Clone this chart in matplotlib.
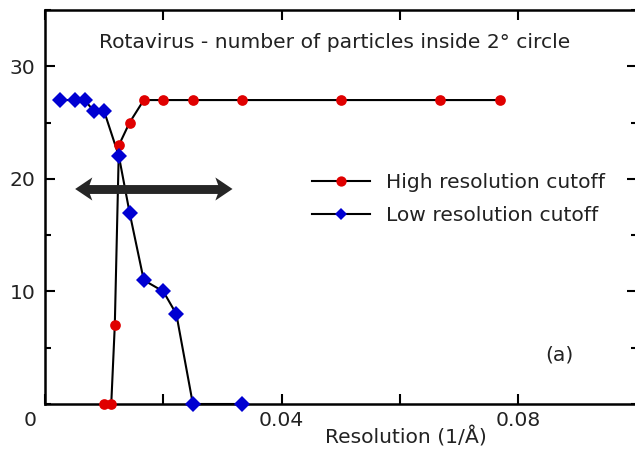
import matplotlib
matplotlib.use("Agg")
import matplotlib.pyplot as plt
from matplotlib.lines import Line2D
from matplotlib.ticker import MultipleLocator, FixedLocator, FixedFormatter

# Resolution (1/Å) and particle counts for each cutoff series
high_res_x = [0.0100, 0.0112, 0.0118, 0.0125, 0.0143, 0.0167, 0.0200, 0.0250, 0.0333, 0.0500, 0.0667, 0.0769]
high_res_y = [0, 0, 7, 23, 25, 27, 27, 27, 27, 27, 27, 27]

low_res_x = [0.0025, 0.0050, 0.0067, 0.0083, 0.0100, 0.0125, 0.0143, 0.0167, 0.0200, 0.0222, 0.0250, 0.0333]
low_res_y = [27, 27, 27, 26, 26, 22, 17, 11, 10, 8, 0, 0]

x_ticks = [0.0, 0.02, 0.04, 0.06, 0.08, 0.10]
x_tick_labels = ["", "", "0.04", "", "0.08", ""]
y_ticks = [10, 20, 30]
y_tick_labels = ["10", "20", "30"]

# Double-headed range arrow (resolution span at a given count)
arrow_x_range = (0.0051, 0.0317)
arrow_y = 19.1

title_text = "Rotavirus - number of particles inside 2° circle"
series_labels = ["High resolution cutoff", "Low resolution cutoff"]

plt.rcParams["font.family"] = ["DejaVu Sans"]
FS = 14.6
RED = "#e00000"
BLUE = "#0000d2"
TEXT = "#222222"
ARROW = "#262626"

fig = plt.figure(figsize=(6.35, 4.5), dpi=100)
ax = fig.add_axes([45 / 635, 46 / 450, 591.5 / 635, 394 / 450])
ax.set_xlim(0, 0.10)
ax.set_ylim(0, 35)

# Connecting lines first, then markers on top of both lines
ax.plot(high_res_x, high_res_y, color="black", lw=1.5, clip_on=False, zorder=2)
ax.plot(low_res_x, low_res_y, color="black", lw=1.5, clip_on=False, zorder=2)
ax.plot(high_res_x, high_res_y, ls="none", marker="o", ms=7.7,
        mfc=RED, mec=RED, mew=0, clip_on=False, zorder=5)
ax.plot(low_res_x, low_res_y, ls="none", marker="D", ms=8.4,
        mfc=BLUE, mec=BLUE, mew=0, clip_on=False, zorder=5)

# Range arrow: a thick shaft plus a barbed head at each end
a, b = arrow_x_range
head_len = 0.0029
ax.plot([a + 0.6 * head_len, b - 0.6 * head_len], [arrow_y, arrow_y],
        color=ARROW, lw=6.4, solid_capstyle="butt", zorder=3)
for tip, sign in ((b, 1), (a, -1)):
    ax.arrow(tip - sign * head_len, arrow_y, sign * head_len, 0, width=0.0,
             head_width=2.05, head_length=head_len, overhang=0.25,
             length_includes_head=True, color=ARROW, lw=0, zorder=3)

# Axes styling
for sp in ax.spines.values():
    sp.set_linewidth(1.8)
ax.xaxis.set_major_locator(FixedLocator(x_ticks))
ax.xaxis.set_major_formatter(FixedFormatter(x_tick_labels))
ax.yaxis.set_major_locator(FixedLocator(y_ticks))
ax.yaxis.set_major_formatter(FixedFormatter(y_tick_labels))
ax.yaxis.set_minor_locator(MultipleLocator(5))
ax.tick_params(axis="both", which="major", direction="in", length=7.5, width=1.5,
               top=True, right=True, labelsize=FS, colors="black")
ax.tick_params(axis="x", which="major", pad=5)
ax.tick_params(axis="y", which="major", pad=7)
ax.tick_params(axis="y", which="minor", direction="in", length=4.5, width=1.5,
               left=True, right=True)
for lbl in ax.get_xticklabels() + ax.get_yticklabels():
    lbl.set_color(TEXT)

# Shared origin label
ax.annotate("0", xy=(0, 0), xytext=(-15, -16), textcoords="offset pixels",
            ha="center", va="center", fontsize=FS, color=TEXT)

ax.set_xlabel("Resolution (1/Å)", fontsize=FS, color=TEXT)
ax.xaxis.label.set_va("baseline")
ax.xaxis.set_label_coords((406 - 45) / 591.5, -(443 - 404) / 394)

ax.text((335 - 45) / 591.5, (404 - 48) / 394, title_text, transform=ax.transAxes,
        ha="center", va="baseline", fontsize=FS, color=TEXT)
ax.text((559 - 45) / 591.5, (404 - 355) / 394, "(a)", transform=ax.transAxes,
        ha="center", va="center", fontsize=FS, color=TEXT)

handles = [
    Line2D([], [], color="black", lw=1.5, marker="o", ms=7.4, mfc=RED, mec=RED, mew=0),
    Line2D([], [], color="black", lw=1.5, marker="D", ms=6.0, mfc=BLUE, mec=BLUE, mew=0),
]
ax.legend(handles, series_labels, loc="upper left",
          bbox_to_anchor=((312 - 45) / 591.5, (404 - 173) / 394),
          frameon=False, fontsize=FS, borderpad=0, borderaxespad=0,
          handlelength=2.85, handletextpad=0.8, labelspacing=0.7,
          labelcolor=TEXT)

fig.savefig("out.png", dpi=100)
